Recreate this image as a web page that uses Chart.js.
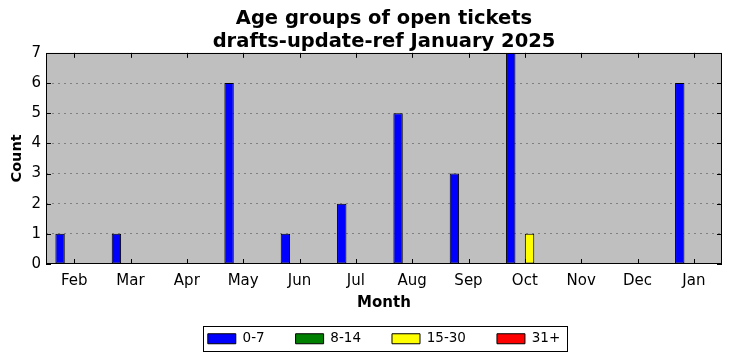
<!DOCTYPE html>
<html><head><meta charset="utf-8">
<script src="https://cdn.jsdelivr.net/npm/chart.js@4/dist/chart.umd.min.js"></script>
<style>html,body{margin:0;padding:0;background:#fff;}#wrap{width:732px;height:361px;}</style>
</head><body><div id="wrap"><canvas id="c" width="732" height="361"></canvas></div>
<script>
const months = ['Feb','Mar','Apr','May','Jun','Jul','Aug','Sep','Oct','Nov','Dec','Jan'];
const age0to7   = [1,1,0,6,1,2,5,3,7,0,0,6];
const age8to14  = [0,0,0,0,0,0,0,0,0,0,0,0];
const age15to30 = [0,0,0,0,0,0,0,0,1,0,0,0];
const age31plus = [0,0,0,0,0,0,0,0,0,0,0,0];
const seriesNames = ['0-7','8-14','15-30','31+'];
const titleLines = ['Age groups of open tickets','drafts-update-ref January 2025'];
const FONT = "'DejaVu Sans', sans-serif";

const framePlugin = {
  id:'frame',
  beforeDraw(chart){
    const {ctx, chartArea:{left,right,top,bottom}} = chart;
    ctx.save(); ctx.fillStyle='#bfbfbf'; ctx.fillRect(left,top,right-left,bottom-top); ctx.restore();
  },
  afterDatasetsDraw(chart){
    const {ctx, chartArea:{left,right,top,bottom}, scales:{x,y}} = chart;
    ctx.save(); ctx.strokeStyle='#000'; ctx.lineWidth=1;
    ctx.beginPath();
    x.ticks.forEach((t,i)=>{const p=Math.round(x.getPixelForTick(i))+0.5; ctx.moveTo(p,bottom); ctx.lineTo(p,bottom-5); ctx.moveTo(p,top); ctx.lineTo(p,top+5);});
    y.ticks.forEach((t,i)=>{const p=Math.round(y.getPixelForTick(i))+0.5; ctx.moveTo(left,p); ctx.lineTo(left+5,p); ctx.moveTo(right,p); ctx.lineTo(right-5,p);});
    ctx.stroke();
    ctx.strokeRect(Math.round(left)+0.5, Math.round(top)+0.5, Math.round(right-left)-1, Math.round(bottom-top)-1);
    ctx.restore();
  },
  afterDraw(chart){
    const lg = chart.legend; if(!lg || !lg.legendHitBoxes) return;
    const hb = lg.legendHitBoxes;
    let l=Infinity,r=-Infinity,t=Infinity,b=-Infinity;
    hb.forEach(h=>{l=Math.min(l,h.left);r=Math.max(r,h.left+h.width);t=Math.min(t,h.top);b=Math.max(b,h.top+h.height);});
    const ctx=chart.ctx; ctx.save(); ctx.strokeStyle='#000'; ctx.lineWidth=1;
    ctx.strokeRect(Math.round(l-5)+0.5, Math.round(t-6)+0.5, Math.round(r-l+12), Math.round(b-t+11));
    ctx.restore();
  }
};

const colors = ['#0000ff','#008000','#ffff00','#ff0000'];
const values = [age0to7, age8to14, age15to30, age31plus];

new Chart(document.getElementById('c'), {
  type:'bar',
  data:{
    labels: months,
    datasets: values.map((v,i)=>({
      label: seriesNames[i], data: v, backgroundColor: colors[i], borderColor:'#000', borderWidth:1,
      borderSkipped:false, categoryPercentage:0.667, barPercentage:1.0
    }))
  },
  options:{
    responsive:false, animation:false, devicePixelRatio:1,
    layout:{padding:{left:0,right:10,top:0,bottom:5.5}},
    plugins:{
      title:{display:true, fullSize:false, text:titleLines, color:'#000', font:{family:FONT,size:19.5,weight:'bold',lineHeight:1.15}, padding:{top:8,bottom:0}},
      legend:{position:'bottom', fullSize:false, labels:{color:'#000', font:{family:FONT,size:13.5}, boxWidth:28, boxHeight:10, padding:31, useBorderRadius:false}},
      tooltip:{enabled:false}
    },
    scales:{
      x:{
        grid:{display:false, drawTicks:false}, border:{display:false},
        ticks:{color:'#000', font:{family:FONT,size:15}, padding:8, maxRotation:0},
        title:{display:true, text:'Month', color:'#000', font:{family:FONT,size:15,weight:'bold'}, padding:{top:0,bottom:-11}},
        afterFit(s){ s.height = 37; }
      },
      y:{
        min:0, max:7,
        grid:{color:(c)=> (c.tick && (c.tick.value===0||c.tick.value===7)) ? 'rgba(0,0,0,0)' : '#808080', borderDash:[2,4], drawTicks:false, lineWidth:1},
        border:{display:false, dash:[2,4]},
        ticks:{stepSize:1, color:'#000', font:{family:FONT,size:15}, padding:5},
        title:{display:true, text:'Count', color:'#000', font:{family:FONT,size:14.5,weight:'bold'}, padding:{top:9,bottom:0}},
        afterFit(s){ s.width = 46; }
      }
    }
  },
  plugins:[framePlugin]
});
</script></body></html>
